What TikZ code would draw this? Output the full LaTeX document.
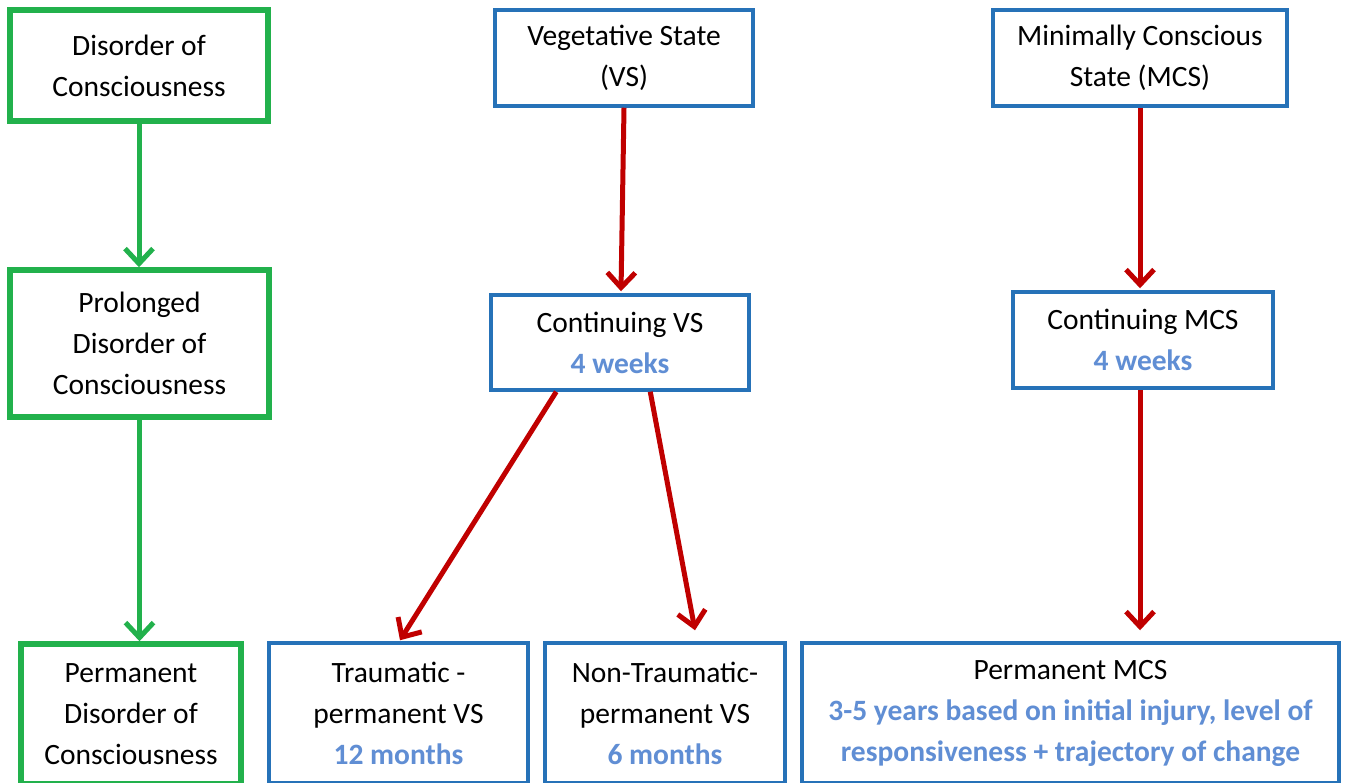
\documentclass[tikz,border=0pt]{standalone}
\usepackage{fontspec}
\setmainfont{Carlito}
\usetikzlibrary{arrows.meta,calc}

\definecolor{docgreen}{RGB}{34,177,76}
\definecolor{docblue}{RGB}{38,114,184}
\definecolor{docred}{RGB}{192,0,0}
\definecolor{doclight}{RGB}{96,142,212}

\tikzset{
  box/.style={fill=white, align=center, inner sep=0pt, font=\fontsize{29.5}{41}\selectfont},
  greenbox/.style={box, draw=docgreen, line width=5.5pt},
  bluebox/.style={box, draw=docblue, line width=3.5pt},
  greenarrow/.style={draw=docgreen, line width=5pt, -{Straight Barb[length=15pt,width=28pt]}},
  redarrow/.style={draw=docred, line width=5pt, -{Straight Barb[length=15pt,width=28pt]}},
}
\newcommand{\period}[1]{\textcolor{doclight}{\textbf{#1}}}

\begin{document}
\begin{tikzpicture}[x=1pt,y=-1pt]
    \useasboundingbox (0,0) rectangle (1346,782);

    % Disorder of consciousness
    \node[greenbox, minimum width=258pt, minimum height=111pt] (doc) at (139,65.5) {Disorder of\\Consciousness};
    \node[greenbox, minimum width=259pt, minimum height=147pt] (pdoc) at (139.5,343.5) {Prolonged\\Disorder of\\Consciousness};
    \node[greenbox, minimum width=220pt, minimum height=140pt] (permdoc) at (131,714) {Permanent\\Disorder of\\Consciousness};

    % Vegetative state
    \node[bluebox, minimum width=258pt, minimum height=96pt] (vs) at (624,58) {Vegetative State\\(VS)};
    \node[bluebox, minimum width=258pt, minimum height=95pt] (cvs) at (620,342.5) {Continuing VS\\\period{4 weeks}};
    \node[bluebox, minimum width=259pt, minimum height=140pt] (tvs) at (398.5,713) {Traumatic -\\permanent VS\\\period{12 months}};
    \node[bluebox, minimum width=240pt, minimum height=140pt] (ntvs) at (665,713) {Non-Traumatic-\\permanent VS\\\period{6 months}};

    % Minimally conscious state
    \node[bluebox, minimum width=294pt, minimum height=96pt] (mcs) at (1140,58) {Minimally Conscious\\State (MCS)};
    \node[bluebox, minimum width=260pt, minimum height=96pt] (cmcs) at (1143,340) {Continuing MCS\\\period{4 weeks}};
    \node[bluebox, minimum width=537pt, minimum height=140pt] (pmcs) at (1070.5,713) {Permanent MCS\\\period{3-5 years based on initial injury, level of}\\\period{responsiveness + trajectory of change}};

    % Flechas
    \draw[greenarrow] (doc.south) -- (doc.south |- pdoc.north);
    \draw[greenarrow] (pdoc.south) -- (pdoc.south |- permdoc.north);

    \draw[redarrow] (vs.south) -- ($(vs.south |- cvs.north)+(-3,-2)$);
    \draw[redarrow] ($(cvs.south west)+(67,0)$) -- ($(tvs.north)+(1.5,-1)$);
    \draw[redarrow] ($(cvs.south west)+(161,0)$) -- ($(ntvs.north)+(30,-11)$);

    \draw[redarrow] (mcs.south) -- ($(mcs.south |- cmcs.north)+(0,-2)$);
    \draw[redarrow] ($(cmcs.south)+(-3,0)$) -- ($(cmcs.south |- pmcs.north)+(-3,-11)$);
\end{tikzpicture}
\end{document}
